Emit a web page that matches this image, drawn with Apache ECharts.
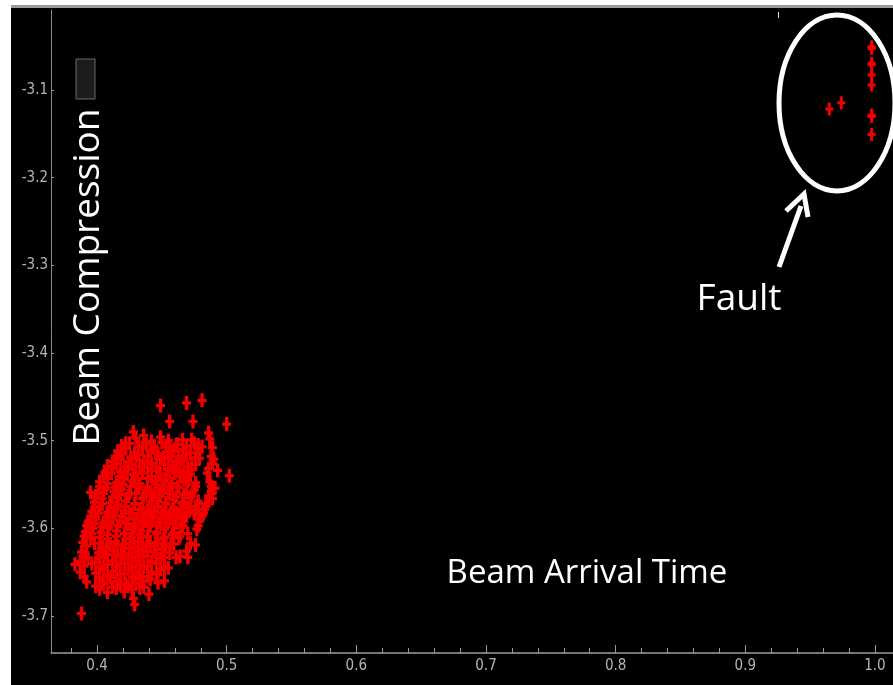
<!DOCTYPE html>
<html>
<head>
<meta charset="utf-8">
<script src="https://cdn.jsdelivr.net/npm/echarts@6/dist/echarts.min.js"></script>
<style>
html,body{margin:0;padding:0;background:#fff;}
#chart{width:893px;height:685px;}
</style>
</head>
<body>
<div id="chart"></div>
<script>
// ---- data ----
var xTickLabels = [0.4, 0.5, 0.6, 0.7, 0.8, 0.9, 1.0];
var xMinorTicks = [0.38, 0.42, 0.44, 0.46, 0.48, 0.52, 0.54, 0.56, 0.58, 0.62, 0.64, 0.66, 0.68, 0.72, 0.74, 0.76, 0.78, 0.82, 0.84, 0.86, 0.88, 0.92, 0.94, 0.96, 0.98];
var yTickLabels = [-3.1, -3.2, -3.3, -3.4, -3.5, -3.6, -3.7];

// normal operation cluster (Beam Arrival Time, Beam Compression)
var normalPoints = [
  [0.449,-3.460],[0.469,-3.457],[0.481,-3.454],[0.456,-3.478],[0.474,-3.478],[0.500,-3.481],
  [0.486,-3.491],[0.428,-3.490],[0.502,-3.540],[0.491,-3.554],[0.388,-3.697],[0.429,-3.687],
  [0.422,-3.503],[0.430,-3.497],[0.436,-3.494],[0.442,-3.501],[0.449,-3.496],[0.455,-3.500],[0.461,-3.505],[0.466,-3.499],[0.473,-3.499],[0.478,-3.505],
  [0.416,-3.512],[0.422,-3.509],[0.429,-3.514],[0.435,-3.508],[0.441,-3.511],[0.447,-3.515],[0.453,-3.507],[0.459,-3.512],[0.466,-3.510],[0.472,-3.514],[0.478,-3.509],[0.489,-3.508],
  [0.412,-3.524],[0.418,-3.520],[0.424,-3.525],[0.430,-3.519],[0.436,-3.523],[0.442,-3.526],[0.449,-3.521],[0.455,-3.518],[0.461,-3.524],[0.467,-3.522],[0.473,-3.527],[0.479,-3.520],[0.490,-3.521],
  [0.406,-3.536],[0.412,-3.531],[0.418,-3.535],[0.424,-3.532],[0.430,-3.537],[0.436,-3.530],[0.442,-3.534],[0.449,-3.538],[0.455,-3.533],[0.461,-3.531],[0.467,-3.536],[0.473,-3.533],[0.486,-3.532],
  [0.402,-3.547],[0.408,-3.543],[0.415,-3.548],[0.421,-3.542],[0.427,-3.546],[0.433,-3.549],[0.439,-3.543],[0.446,-3.546],[0.452,-3.544],[0.458,-3.549],[0.464,-3.541],[0.470,-3.546],[0.476,-3.548],[0.487,-3.547],
  [0.401,-3.559],[0.407,-3.554],[0.413,-3.558],[0.419,-3.555],[0.425,-3.560],[0.432,-3.553],[0.438,-3.557],[0.444,-3.561],[0.450,-3.555],[0.456,-3.558],[0.462,-3.553],[0.469,-3.559],[0.475,-3.556],[0.489,-3.555],
  [0.398,-3.570],[0.404,-3.566],[0.410,-3.571],[0.416,-3.565],[0.422,-3.569],[0.429,-3.572],[0.435,-3.566],[0.441,-3.569],[0.447,-3.564],[0.453,-3.571],[0.459,-3.567],[0.466,-3.570],[0.472,-3.565],[0.478,-3.569],[0.484,-3.572],[0.489,-3.566],
  [0.396,-3.581],[0.402,-3.577],[0.408,-3.582],[0.415,-3.576],[0.421,-3.580],[0.427,-3.583],[0.433,-3.578],[0.439,-3.581],[0.446,-3.576],[0.452,-3.582],[0.458,-3.579],[0.464,-3.583],[0.470,-3.577],[0.476,-3.580],[0.483,-3.578],
  [0.393,-3.593],[0.399,-3.589],[0.405,-3.594],[0.412,-3.588],[0.418,-3.592],[0.424,-3.595],[0.430,-3.589],[0.436,-3.592],[0.442,-3.587],[0.449,-3.593],[0.455,-3.590],[0.461,-3.594],[0.467,-3.588],[0.479,-3.590],
  [0.391,-3.604],[0.397,-3.600],[0.403,-3.605],[0.409,-3.599],[0.415,-3.603],[0.422,-3.606],[0.428,-3.600],[0.434,-3.603],[0.440,-3.598],[0.446,-3.604],[0.452,-3.601],[0.459,-3.605],[0.465,-3.599],[0.477,-3.601],
  [0.389,-3.616],[0.395,-3.611],[0.402,-3.617],[0.408,-3.612],[0.414,-3.615],[0.420,-3.618],[0.426,-3.612],[0.432,-3.615],[0.439,-3.610],[0.445,-3.616],[0.451,-3.613],[0.457,-3.617],[0.463,-3.611],[0.476,-3.619],
  [0.388,-3.627],[0.401,-3.628],[0.407,-3.622],[0.413,-3.626],[0.419,-3.629],[0.425,-3.623],[0.432,-3.626],[0.438,-3.621],[0.444,-3.627],[0.450,-3.624],[0.456,-3.628],[0.469,-3.626],
  [0.387,-3.638],[0.393,-3.634],[0.399,-3.639],[0.405,-3.633],[0.412,-3.637],[0.418,-3.640],[0.424,-3.634],[0.430,-3.637],[0.436,-3.632],[0.442,-3.638],[0.449,-3.635],[0.461,-3.633],
  [0.387,-3.650],[0.399,-3.651],[0.405,-3.646],[0.412,-3.649],[0.418,-3.652],[0.424,-3.646],[0.430,-3.649],[0.436,-3.644],[0.442,-3.650],[0.449,-3.647],[0.455,-3.645],
  [0.392,-3.661],[0.404,-3.662],[0.410,-3.656],[0.416,-3.660],[0.422,-3.663],[0.429,-3.657],[0.435,-3.660],[0.441,-3.658],[0.447,-3.662],
  [0.402,-3.669],[0.408,-3.673],[0.415,-3.668],[0.421,-3.672],[0.427,-3.670],[0.433,-3.668],
  [0.428,-3.680],
  // interleaved points filling the dense core
  [0.419,-3.506],[0.425,-3.503],[0.432,-3.507],[0.438,-3.504],[0.444,-3.506],[0.450,-3.502],[0.456,-3.507],[0.462,-3.504],[0.469,-3.506],[0.475,-3.503],[0.481,-3.507],
  [0.414,-3.518],[0.420,-3.515],[0.426,-3.519],[0.432,-3.516],[0.439,-3.518],[0.445,-3.514],[0.451,-3.519],[0.457,-3.516],[0.463,-3.518],[0.469,-3.515],[0.476,-3.519],[0.488,-3.518],
  [0.408,-3.529],[0.415,-3.526],[0.421,-3.530],[0.427,-3.527],[0.433,-3.529],[0.439,-3.526],[0.446,-3.530],[0.452,-3.527],[0.458,-3.529],[0.464,-3.526],[0.470,-3.530],[0.476,-3.527],[0.489,-3.526],
  [0.405,-3.540],[0.411,-3.537],[0.417,-3.541],[0.423,-3.538],[0.429,-3.540],[0.435,-3.537],[0.442,-3.541],[0.448,-3.538],[0.454,-3.540],[0.460,-3.537],[0.466,-3.541],[0.472,-3.538],[0.485,-3.537],
  [0.402,-3.552],[0.408,-3.549],[0.414,-3.553],[0.420,-3.550],[0.426,-3.552],[0.432,-3.549],[0.439,-3.553],[0.445,-3.550],[0.451,-3.552],[0.457,-3.549],[0.463,-3.553],[0.469,-3.550],[0.476,-3.552],[0.488,-3.552],
  [0.399,-3.563],[0.405,-3.560],[0.412,-3.564],[0.418,-3.561],[0.424,-3.563],[0.430,-3.560],[0.436,-3.564],[0.442,-3.561],[0.449,-3.563],[0.455,-3.560],[0.461,-3.564],[0.467,-3.561],[0.473,-3.563],[0.486,-3.563],
  [0.398,-3.575],[0.404,-3.572],[0.410,-3.576],[0.416,-3.573],[0.422,-3.575],[0.429,-3.572],[0.435,-3.576],[0.441,-3.573],[0.447,-3.575],[0.453,-3.572],[0.459,-3.576],[0.466,-3.573],[0.472,-3.575],[0.478,-3.572],[0.484,-3.575],
  [0.395,-3.586],[0.401,-3.583],[0.407,-3.587],[0.413,-3.584],[0.419,-3.586],[0.425,-3.583],[0.432,-3.587],[0.438,-3.584],[0.444,-3.586],[0.450,-3.583],[0.456,-3.587],[0.462,-3.584],[0.469,-3.586],[0.475,-3.583],[0.481,-3.586],
  [0.392,-3.597],[0.398,-3.594],[0.404,-3.598],[0.410,-3.595],[0.416,-3.597],[0.422,-3.594],[0.429,-3.598],[0.435,-3.595],[0.441,-3.597],[0.447,-3.594],[0.453,-3.598],[0.459,-3.595],[0.466,-3.597],[0.478,-3.597],
  [0.390,-3.609],[0.396,-3.606],[0.402,-3.610],[0.408,-3.607],[0.415,-3.609],[0.421,-3.606],[0.427,-3.610],[0.433,-3.607],[0.439,-3.609],[0.446,-3.606],[0.452,-3.610],[0.458,-3.607],[0.464,-3.609],[0.470,-3.606],
  [0.392,-3.620],[0.398,-3.617],[0.404,-3.621],[0.410,-3.618],[0.416,-3.620],[0.422,-3.617],[0.429,-3.621],[0.435,-3.618],[0.441,-3.620],[0.447,-3.617],[0.453,-3.621],[0.459,-3.618],[0.472,-3.617],
  [0.390,-3.632],[0.402,-3.633],[0.408,-3.630],[0.415,-3.632],[0.421,-3.629],[0.427,-3.633],[0.433,-3.630],[0.439,-3.632],[0.446,-3.629],[0.452,-3.633],[0.464,-3.632],
  [0.390,-3.643],[0.396,-3.640],[0.402,-3.644],[0.408,-3.641],[0.415,-3.643],[0.421,-3.640],[0.427,-3.644],[0.433,-3.641],[0.439,-3.643],[0.446,-3.640],[0.452,-3.644],
  [0.390,-3.655],[0.402,-3.656],[0.408,-3.653],[0.415,-3.655],[0.421,-3.652],[0.427,-3.656],[0.433,-3.653],[0.439,-3.655],[0.446,-3.652],
  [0.399,-3.666],[0.405,-3.663],[0.412,-3.667],[0.418,-3.664],[0.424,-3.666],[0.430,-3.663],[0.436,-3.667],
  // scattered edge points
  [0.493,-3.534],[0.487,-3.498],[0.395,-3.559],[0.383,-3.641],[0.482,-3.583],[0.470,-3.633],[0.452,-3.660],[0.440,-3.675]
];

// fault points (upper right)
var faultPoints = [
  [0.9974,-3.0505],[0.9974,-3.0525],[0.9974,-3.0695],[0.9974,-3.0712],[0.9974,-3.0829],[0.9974,-3.0943],
  [0.9974,-3.1285],[0.9974,-3.1302],[0.9974,-3.1506],[0.9647,-3.1217],[0.9740,-3.1145]
];

var annotations = { yTitle: 'Beam Compression', xTitle: 'Beam Arrival Time', fault: 'Fault' };

// ---- chart ----
var chart = echarts.init(document.getElementById('chart'), null, { renderer: 'canvas' });
var plus = 'path://M2.5,0H5.5V5H8V8H5.5V13H2.5V8H0V5H2.5Z';
var labelFont = { color: '#b4b4b4', fontFamily: '"Liberation Sans Narrow","DejaVu Sans Condensed",sans-serif', fontSize: 15, fontWeight: 'normal' };
var xMin = 0.3645, xMax = 1.0139, yMin = -3.7422, yMax = -3.0087;

var option = {
  backgroundColor: 'transparent',
  animation: false,
  grid: { left: 51, right: 0, top: 10, bottom: 32, containLabel: false },
  xAxis: [{
    type: 'value', min: xMin, max: xMax, position: 'bottom',
    axisLine: { show: true, lineStyle: { color: '#9a9a9a', width: 1.5 } },
    axisTick: { show: true, inside: true, length: 8, customValues: xTickLabels, lineStyle: { color: '#9a9a9a', width: 1 } },
    axisLabel: Object.assign({ show: true, margin: 6, customValues: xTickLabels, formatter: function (v) { return v.toFixed(1); } }, labelFont),
    splitLine: { show: false }
  }, {
    type: 'value', min: xMin, max: xMax, position: 'bottom', offset: 0,
    axisLine: { show: false },
    axisTick: { show: true, inside: true, length: 5, customValues: xMinorTicks, lineStyle: { color: '#9a9a9a', width: 1 } },
    axisLabel: { show: false },
    splitLine: { show: false }
  }],
  yAxis: [{
    type: 'value', min: yMin, max: yMax,
    axisLine: { show: true, lineStyle: { color: '#8a8a8a', width: 1 } },
    axisTick: { show: true, inside: true, length: 3, customValues: yTickLabels, lineStyle: { color: '#9a9a9a' } },
    axisLabel: Object.assign({ show: true, margin: 3, customValues: yTickLabels, formatter: function (v) { return v.toFixed(1); } }, labelFont),
    splitLine: { show: false }
  }],
  series: [{
    type: 'scatter', xAxisIndex: 0, yAxisIndex: 0,
    data: normalPoints, symbol: plus, symbolSize: [9, 14],
    itemStyle: { color: '#f20000', opacity: 1 }
  }, {
    type: 'scatter', xAxisIndex: 0, yAxisIndex: 0,
    data: faultPoints, symbol: plus, symbolSize: [8, 13],
    itemStyle: { color: '#f20000', opacity: 1 }
  }],
  graphic: { elements: [
    { type: 'rect', z: -100, shape: { x: 11, y: 5, width: 882, height: 3 }, style: { fill: '#9a9a9a' }, silent: true },
    { type: 'rect', z: -100, shape: { x: 11, y: 8, width: 882, height: 677 }, style: { fill: '#000' }, silent: true },
    { type: 'rect', z: 10, shape: { x: 76, y: 59, width: 19, height: 40 }, style: { fill: '#1c1c1c', stroke: '#6a6a6a', lineWidth: 1 } },
    { type: 'rect', z: 10, shape: { x: 778, y: 12, width: 1, height: 6 }, style: { fill: '#ddd' } },
    { type: 'text', z: 10, x: 88, y: 277, rotation: Math.PI / 2,
      style: { text: annotations.yTitle, fill: '#fff', font: '37px "Open Sans", sans-serif', align: 'center', verticalAlign: 'middle' } },
    { type: 'text', z: 10, x: 587, y: 574,
      style: { text: annotations.xTitle, fill: '#fff', font: '33px "Open Sans", sans-serif', align: 'center', verticalAlign: 'middle' } },
    { type: 'text', z: 10, x: 739, y: 299,
      style: { text: annotations.fault, fill: '#fff', font: '37px "Open Sans", sans-serif', align: 'center', verticalAlign: 'middle' } },
    { type: 'ellipse', z: 10, shape: { cx: 837, cy: 103, rx: 58, ry: 88 }, style: { fill: 'none', stroke: '#fff', lineWidth: 5 } },
    { type: 'polyline', z: 10, shape: { points: [[779, 267], [801, 206]] }, style: { stroke: '#fff', lineWidth: 5, fill: 'none' } },
    { type: 'polyline', z: 10, shape: { points: [[786, 211], [804, 194], [808, 217]] }, style: { stroke: '#fff', lineWidth: 5, fill: 'none', lineJoin: 'miter' } }
  ] }
};
chart.setOption(option);
</script>
</body>
</html>
